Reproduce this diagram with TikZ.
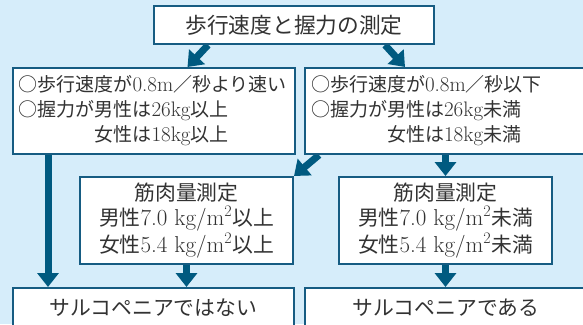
\documentclass[tikz,border=0pt]{standalone}
\usepackage{fontspec}
\newfontfamily\cjk[Scale=0.905]{Noto Sans CJK JP}
\usetikzlibrary{arrows.meta}
\definecolor{bgblue}{RGB}{214,237,250}
\definecolor{frame}{RGB}{22,92,130}
\definecolor{arrowc}{RGB}{0,90,128}
\definecolor{txt}{RGB}{50,50,50}
\newcommand\jtx[1]{{\cjk #1}}
\pgfdeclarelayer{bg}\pgfdeclarelayer{arrlayer}\pgfsetlayers{bg,arrlayer,main}
\begin{document}
\begin{tikzpicture}[x=1pt,y=-1pt,
  box/.style={draw=frame,line width=2pt,fill=white,text=txt,inner sep=0pt,align=center},
  upbox/.style={box,anchor=north west,minimum height=86pt,text width=270pt,align=left,inner xsep=6pt,font=\fontsize{21}{25}\selectfont},
  midbox/.style={box,minimum width=213pt,minimum height=87pt,font=\fontsize{23}{25}\selectfont},
  lowbox/.style={box,anchor=north west,minimum height=40pt,font=\fontsize{23}{25}\selectfont},
  arr/.style={draw=arrowc,line width=7pt,-{Triangle[width=21pt,length=14pt]}}]
\useasboundingbox (0,0) rectangle (583,324);
\begin{pgfonlayer}{bg}
\fill[bgblue] (0,0) rectangle (583,324);
\end{pgfonlayer}
\node[box,minimum width=280pt,minimum height=38pt,font=\fontsize{24}{26}\selectfont] (top) at (294,25) {\jtx{歩行速度と握力の測定}};
\node[upbox] (l1) at (11.5,67) {\jtx{○歩行速度が}0.8m\jtx{／秒より速い}\\
  \jtx{○握力が男性は}26kg\jtx{以上}\\
  \jtx{\hphantom{○握力が}女性は}18kg\jtx{以上}};
\node[upbox] (r1) at (304,67) {\jtx{○歩行速度が}0.8m\jtx{／秒以下}\\
  \jtx{○握力が男性は}26kg\jtx{未満}\\
  \jtx{\hphantom{○握力が}女性は}18kg\jtx{未満}};
\node[midbox] (m1) at (186.5,220.5) {\jtx{筋肉量測定}\\
  \jtx{男性}7.0 kg/m\textsuperscript{2}\jtx{以上}\\
  \jtx{女性}5.4 kg/m\textsuperscript{2}\jtx{以上}};
\node[midbox] (m2) at (445.5,220.5) {\jtx{筋肉量測定}\\
  \jtx{男性}7.0 kg/m\textsuperscript{2}\jtx{未満}\\
  \jtx{女性}5.4 kg/m\textsuperscript{2}\jtx{未満}};
\node[lowbox,minimum width=281.5pt] (b1) at (11.5,287) {\jtx{サルコペニアではない}};
\node[lowbox,minimum width=282pt] (b2) at (304,287) {\jtx{サルコペニアである}};
\coordinate (lt) at ([xshift=-105.5pt]l1.south);
\begin{pgfonlayer}{arrlayer}
\draw[arr] ([xshift=-86pt]top.south) -- ([xshift=34pt]l1.north);
\draw[arr] ([xshift=91pt]top.south) -- ([xshift=-41pt]r1.north);
\draw[arr] (lt) -- (lt |- b1.north);
\draw[arr] ([xshift=-127pt]r1.south) -- (m1.north east);
\draw[arr] (r1.south -| m2.north) -- (m2.north);
\draw[arr] (m1.south) -- (m1.south |- b1.north);
\draw[arr] (m2.south) -- (m2.south |- b2.north);
\end{pgfonlayer}
\end{tikzpicture}
\end{document}
